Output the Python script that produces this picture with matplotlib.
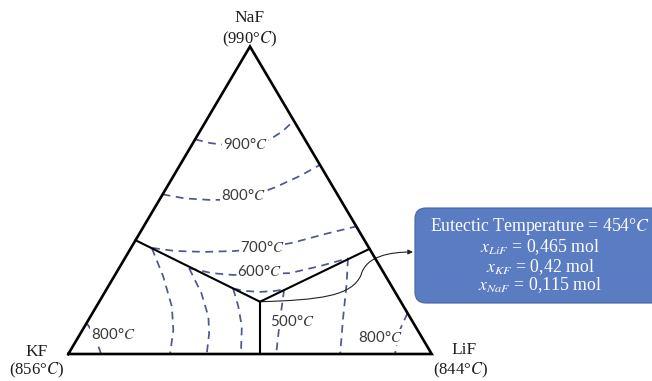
"""
KF - LiF - NaF ternary liquidus sketch with the eutectic point.
"""

import numpy as np
import matplotlib
matplotlib.use("Agg")
import matplotlib.pyplot as plt
from matplotlib.patches import FancyBboxPatch, FancyArrowPatch
from matplotlib.path import Path

plt.rcParams["mathtext.fontset"] = "stix"

# Compositions are (x_LiF, x_NaF); x_KF is the remainder
vertex_names = ["KF", "LiF", "NaF"]
vertex_melting = ["856", "844", "990"]

eutectic = (0.4425, 0.170)
left_junction = (0.0, 0.370)
right_junction = (0.658, 0.342)
base_junction = (0.5275, 0.0)

# isotherms, one list per primary field
iso_900 = [(0.0, 0.698), (0.047, 0.686), (0.091, 0.680), (0.161, 0.678),
           (0.206, 0.698), (0.228, 0.725), (0.241, 0.759)]
iso_800_naf = [(0.0, 0.519), (0.068, 0.506), (0.140, 0.501), (0.208, 0.502),
               (0.255, 0.517), (0.298, 0.542), (0.348, 0.579), (0.385, 0.615)]
iso_700_naf = [(0.058, 0.345), (0.126, 0.335), (0.210, 0.332), (0.291, 0.335),
               (0.357, 0.342), (0.437, 0.362), (0.511, 0.390), (0.585, 0.415)]
iso_600_naf = [(0.193, 0.279), (0.264, 0.263), (0.325, 0.257), (0.397, 0.260),
               (0.478, 0.263), (0.550, 0.286), (0.614, 0.311)]
iso_550_naf = [(0.347, 0.213), (0.384, 0.205), (0.427, 0.202), (0.466, 0.205),
               (0.489, 0.210)]
iso_700_kf = [(0.058, 0.344), (0.136, 0.251), (0.208, 0.154), (0.250, 0.078),
              (0.280, 0.0)]
iso_600_kf = [(0.193, 0.279), (0.268, 0.197), (0.325, 0.121), (0.354, 0.067),
              (0.381, 0.0)]
iso_550_kf = [(0.347, 0.213), (0.391, 0.154), (0.433, 0.089), (0.475, 0.0)]
iso_550_lif = [(0.489, 0.210), (0.527, 0.111), (0.572, 0.0)]
iso_600_lif = [(0.614, 0.311), (0.651, 0.230), (0.696, 0.121), (0.748, 0.0)]
iso_800_kf = [(0.0, 0.101), (0.044, 0.059), (0.090, 0.0)]
iso_800_lif = [(0.867, 0.133), (0.874, 0.072), (0.899, 0.0)]

iso_labels = ["900", "800", "700", "600", "500", "800", "800"]
iso_label_pos = [(0.146, 0.680), (0.222, 0.517), (0.361, 0.345),
                 (0.393, 0.268), (0.562, 0.107), (0.0905, 0.065),
                 (0.830, 0.055)]

eutectic_temp = "454"
eutectic_comp = [("LiF", "0,465"), ("KF", "0,42"), ("NaF", "0,115")]


def to_xy(points):
    pts = np.atleast_2d(np.asarray(points, dtype=float))
    lif, naf = pts[:, 0], pts[:, 1]
    return lif + naf / 2.0, naf * np.sqrt(3) / 2.0


fig = plt.figure(figsize=(6.52, 3.81), dpi=100)
ax = fig.add_axes([68.3 / 652, 27.0 / 381, 363.4 / 652, 307.5 / 381])
ax.set_xlim(0, 1)
ax.set_ylim(0, np.sqrt(3) / 2)
ax.axis("off")

# Triangle frame
corners = [(0.0, 0.0), (1.0, 0.0), (0.0, 1.0), (0.0, 0.0)]
x, y = to_xy(corners)
ax.plot(x, y, color="black", lw=1.9, clip_on=False,
        solid_joinstyle="miter", zorder=4)

# Field boundaries
for end in [left_junction, right_junction, base_junction]:
    x, y = to_xy([eutectic, end])
    ax.plot(x, y, color="black", lw=1.5, clip_on=False, zorder=4)

# Dashed isotherms
dash_color = "#4d5790"
for curve in [iso_900, iso_800_naf, iso_700_naf, iso_600_naf, iso_550_naf,
              iso_700_kf, iso_600_kf, iso_550_kf, iso_550_lif, iso_600_lif,
              iso_800_kf, iso_800_lif]:
    x, y = to_xy(curve)
    ax.plot(x, y, color=dash_color, lw=1.25, linestyle=(0, (4.5, 3.2)),
            clip_on=False, zorder=2)

for label, pos in zip(iso_labels, iso_label_pos):
    x, y = to_xy(pos)
    ax.text(x[0], y[0], label + "°$C$", ha="center", va="center",
            fontsize=10.8, family="Lato", color="#3a3a3a", zorder=3,
            bbox=dict(fc="white", ec="none", pad=0.6))

# Vertex labels
vertex_pos = [(0.0, 0.0), (1.0, 0.0), (0.0, 1.0)]
name_offset = [(-23, 1.5), (23, 3), (0, 20.5)]
temp_offset = [(-23, -11.5), (21, -11.5), (0, 5)]
for name, temp, pos, o1, o2 in zip(vertex_names, vertex_melting, vertex_pos,
                                   name_offset, temp_offset):
    x, y = to_xy(pos)
    ax.annotate(name, (x[0], y[0]), xytext=o1, textcoords="offset points",
                ha="center", va="center", fontsize=12.5,
                family="Liberation Serif", color="#1e1e1e")
    ax.annotate("(" + temp + "°$C$)", (x[0], y[0]), xytext=o2,
                textcoords="offset points", ha="center", va="center",
                fontsize=12, family="Liberation Serif", color="#1e1e1e")

# Callout box
box = FancyBboxPatch((0.954, 0.1436), 0.70, 0.2676,
                     boxstyle="round,pad=0,rounding_size=0.03",
                     fc="#5a7cc2", ec="#46679f", lw=0.8, clip_on=False,
                     zorder=5)
ax.add_patch(box)
lines = ["Eutectic Temperature = " + eutectic_temp + "°$C$"]
for comp, val in eutectic_comp:
    lines.append("$x_{" + comp + "}$ = " + val + " mol")
line_y = [0.3585, 0.2999, 0.2459, 0.1929]
for text, ly in zip(lines, line_y):
    ax.text(1.298, ly, text, ha="center", va="center", fontsize=12.8,
            family="Liberation Serif", color="white", zorder=6)

# Curved arrow from the eutectic to the box
ex, ey = to_xy(eutectic)
verts = [(ex[0], ey[0]), (0.6926, 0.1521), (0.7807, 0.1633), (0.8055, 0.2225),
         (0.8192, 0.2760), (0.8853, 0.2873), (0.9485, 0.2873)]
codes = [Path.MOVETO] + [Path.CURVE4] * 6
arrow = FancyArrowPatch(path=Path(verts, codes), arrowstyle="-|>",
                        mutation_scale=7, lw=0.8, color="#222222",
                        clip_on=False, zorder=3)
ax.add_patch(arrow)

fig.savefig("out.png", dpi=100)
